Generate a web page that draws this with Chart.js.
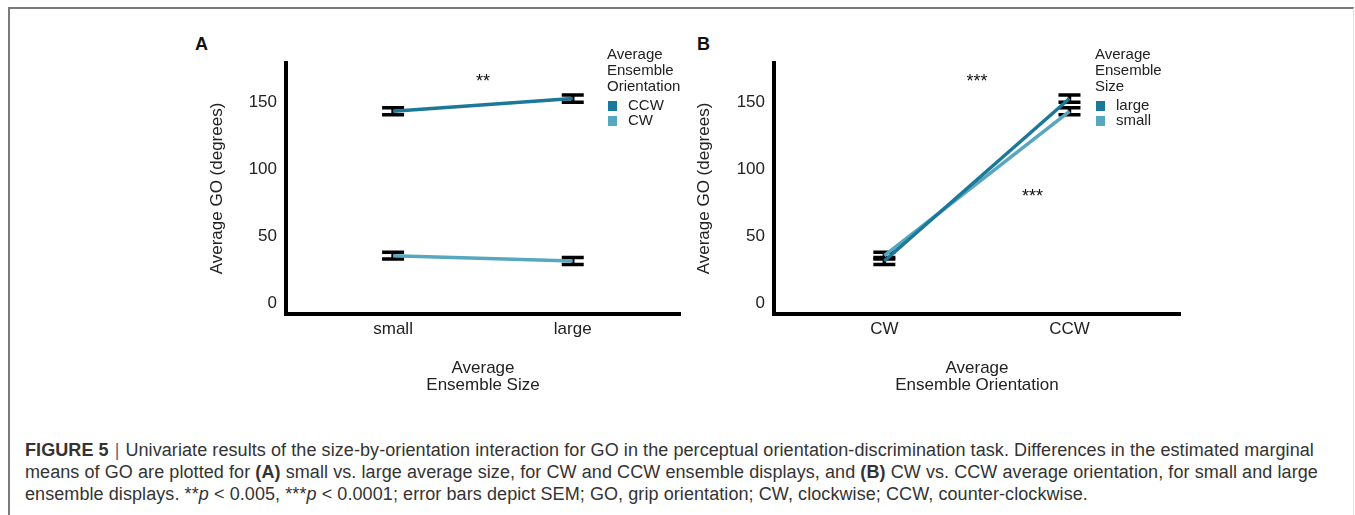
<!DOCTYPE html>
<html>
<head>
<meta charset="utf-8">
<script src="https://cdn.jsdelivr.net/npm/chart.js@4.4.0/dist/chart.umd.min.js"></script>
<style>
  body { margin: 0; background: #fff; width: 1355px; height: 515px; overflow: hidden; position: relative;
         font-family: "Liberation Sans", Arial, sans-serif; }
  #frame { position: absolute; left: 8px; top: 7px; width: 1343px; height: 520px;
           border-top: 2px solid #7b7b7b; border-left: 2px solid #7b7b7b; border-right: 1px solid #e2e2e2; }
  .panel { position: absolute; }
  .tag { position: absolute; font-weight: bold; font-size: 18px; color: #111; }
  #caption { position: absolute; left: 25px; top: 439px; font-size: 18px; line-height: 22px; color: #333;
             white-space: nowrap; letter-spacing: 0.08px; }
  #caption .sep { color: #666; margin: 0 6px; }
</style>
</head>
<body>
<div id="frame"></div>
<div class="tag" style="left:195px;top:34px">A</div>
<div class="tag" style="left:697px;top:34px">B</div>
<div class="panel" style="left:190px;top:30px;width:500px;height:370px"><canvas id="chartA"></canvas></div>
<div class="panel" style="left:690px;top:30px;width:500px;height:370px"><canvas id="chartB"></canvas></div>
<div id="caption">
  <b>FIGURE 5</b><span class="sep">|</span>Univariate results of the size-by-orientation interaction for GO in the perceptual orientation-discrimination task. Differences in the estimated marginal<br>
  means of GO are plotted for <b>(A)</b> small vs. large average size, for CW and CCW ensemble displays, and <b>(B)</b> CW vs. CCW average orientation, for small and large<br>
  ensemble displays. **<i>p</i> &lt; 0.005, ***<i>p</i> &lt; 0.0001; error bars depict SEM; GO, grip orientation; CW, clockwise; CCW, counter-clockwise.
</div>
<script>
// --- DATA ---
const sizeLabels = ["small", "large"];
const orientLabels = ["CW", "CCW"];
const yTicks = [0, 50, 100, 150];

// mean GO (degrees), indexed by size [small, large]
const ccwMeans = [143, 152.5];
const cwMeans = [35.3, 31.3];
const ccwSem = [2.6, 2.7];
const cwSem = [2.5, 2.6];

// same cells, indexed by orientation [CW, CCW]
const largeMeans = [31.3, 152.5];
const smallMeans = [35.3, 143];
const largeSem = [2.6, 2.7];
const smallSem = [2.5, 2.6];

const darkBlue = "#1b7898";
const lightBlue = "#56a7bf";
const fontFamily = "'Liberation Sans', Arial, sans-serif";

// --- PLUGINS ---
const errorBars = {
  id: "errorBars",
  beforeDatasetsDraw(chart) {
    const ctx = chart.ctx;
    const yScale = chart.scales.y;
    ctx.save();
    ctx.strokeStyle = "#000";
    ctx.lineWidth = 3.5;
    chart.data.datasets.forEach((ds, i) => {
      const meta = chart.getDatasetMeta(i);
      meta.data.forEach((pt, j) => {
        const mean = ds.data[j].y;
        const top = yScale.getPixelForValue(mean + ds.sem[j]);
        const bot = yScale.getPixelForValue(mean - ds.sem[j]);
        ctx.beginPath();
        ctx.moveTo(pt.x, top);
        ctx.lineTo(pt.x, bot);
        ctx.moveTo(pt.x - 11, top);
        ctx.lineTo(pt.x + 11, top);
        ctx.moveTo(pt.x - 11, bot);
        ctx.lineTo(pt.x + 11, bot);
        ctx.stroke();
      });
    });
    ctx.restore();
  },
};

const extras = {
  id: "extras",
  afterDraw(chart, args, opts) {
    const ctx = chart.ctx;
    const xs = chart.scales.x;
    const ys = chart.scales.y;
    ctx.save();
    // significance stars
    ctx.fillStyle = "#111";
    ctx.font = "18px " + fontFamily;
    ctx.textAlign = "center";
    ctx.textBaseline = "middle";
    opts.stars.forEach((s) => {
      ctx.fillText(s.text, xs.getPixelForValue(s.x), ys.getPixelForValue(s.y));
    });
    // legend
    const lx = opts.legendX;
    ctx.textAlign = "left";
    ctx.font = "15px " + fontFamily;
    ctx.fillStyle = "#222";
    opts.title.forEach((line, k) => ctx.fillText(line, lx, 25 + k * 16));
    chart.data.datasets.forEach((ds, k) => {
      const cy = 76 + k * 15;
      ctx.fillStyle = ds.borderColor;
      ctx.fillRect(lx + 1, cy - 5, 9, 10);
      ctx.fillStyle = "#222";
      ctx.fillText(ds.label, lx + 21, cy);
    });
    ctx.restore();
  },
};

function makeChart(id, cats, series, yTitle, xTitle, yTitlePad, yWidth, extraOpts) {
  return new Chart(document.getElementById(id), {
    type: "line",
    data: {
      datasets: series.map((s) => ({
        label: s.label,
        data: s.values.map((v, i) => ({ x: i, y: v })),
        sem: s.sem,
        borderColor: s.color,
        backgroundColor: s.color,
        borderWidth: 3.5,
        pointRadius: 0,
        tension: 0,
      })),
    },
    options: {
      responsive: true,
      maintainAspectRatio: false,
      animation: false,
      layout: { padding: { top: 33, right: 10, left: 0, bottom: 0 } },
      plugins: { legend: { display: false }, tooltip: { enabled: false }, extras: extraOpts },
      scales: {
        x: {
          type: "linear",
          min: -0.596,
          max: 1.597,
          grid: { display: false, drawTicks: false },
          border: { color: "#000", width: 4 },
          afterBuildTicks: (sc) => { sc.ticks = cats.map((_, i) => ({ value: i })); },
          afterFit: (sc) => { sc.height = 86; },
          ticks: {
            padding: 5,
            color: "#222",
            font: { size: 17, family: fontFamily },
            callback: (v) => cats[v],
          },
          title: {
            display: true,
            text: xTitle,
            color: "#222",
            padding: { bottom: 7, top: 0 },
            font: { size: 17, lineHeight: 0.95, family: fontFamily },
          },
        },
        y: {
          min: -8.2,
          max: 179,
          grid: { display: false, drawTicks: false },
          border: { color: "#000", width: 4 },
          afterBuildTicks: (sc) => { sc.ticks = yTicks.map((v) => ({ value: v })); },
          afterFit: (sc) => { sc.width = yWidth; },
          ticks: {
            padding: 9,
            color: "#222",
            font: { size: 17, family: fontFamily },
          },
          title: {
            display: true,
            text: yTitle,
            color: "#222",
            padding: { top: yTitlePad, bottom: 0 },
            font: { size: 17, lineHeight: 1.2, family: fontFamily },
          },
        },
      },
    },
    plugins: [errorBars, extras],
  });
}

makeChart(
  "chartA",
  sizeLabels,
  [
    { label: "CCW", values: ccwMeans, sem: ccwSem, color: darkBlue },
    { label: "CW", values: cwMeans, sem: cwSem, color: lightBlue },
  ],
  "Average GO (degrees)",
  ["Average", "Ensemble Size"],
  17,
  96,
  {
    stars: [{ text: "**", x: 0.5, y: 164.5 }],
    title: ["Average", "Ensemble", "Orientation"],
    legendX: 417,
  }
);

makeChart(
  "chartB",
  orientLabels,
  [
    { label: "large", values: largeMeans, sem: largeSem, color: darkBlue },
    { label: "small", values: smallMeans, sem: smallSem, color: lightBlue },
  ],
  "Average GO (degrees)",
  ["Average", "Ensemble Orientation"],
  4,
  84,
  {
    stars: [
      { text: "***", x: 0.5, y: 164.5 },
      { text: "***", x: 0.8, y: 79 },
    ],
    title: ["Average", "Ensemble", "Size"],
    legendX: 405,
  }
);
</script>
</body>
</html>
